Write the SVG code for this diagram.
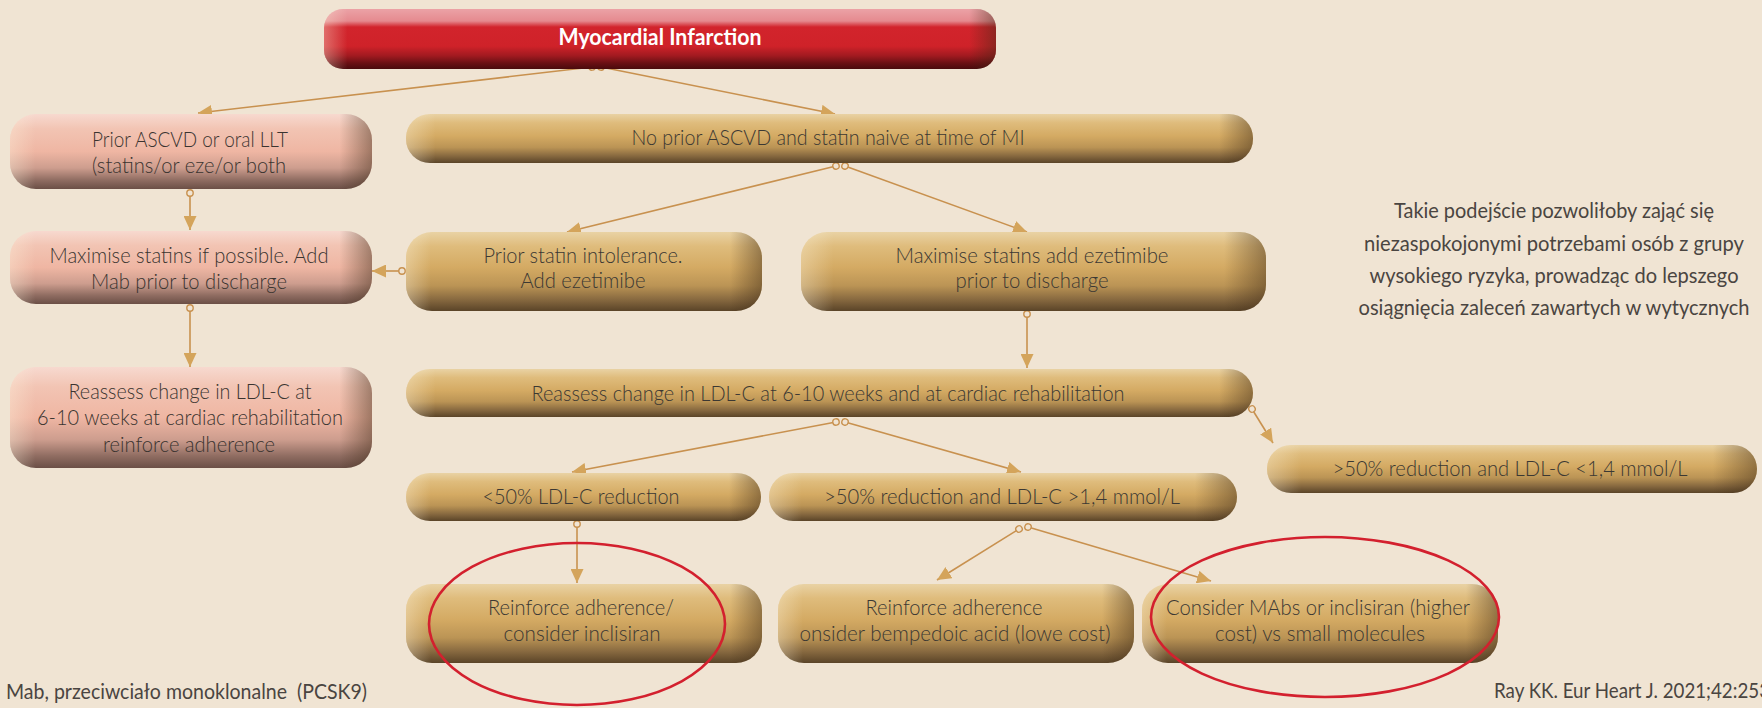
<svg xmlns="http://www.w3.org/2000/svg" width="1762" height="708" viewBox="0 0 1762 708">
<defs>
<linearGradient id="goldV" x1="0" y1="0" x2="0" y2="1">
<stop offset="0" stop-color="#e9d2a4"/><stop offset="0.18" stop-color="#dfbc7c"/><stop offset="0.45" stop-color="#d4aa63"/><stop offset="0.68" stop-color="#bb9455"/><stop offset="0.86" stop-color="#86683f"/><stop offset="1" stop-color="#5a4428"/>
</linearGradient>
<linearGradient id="pinkV" x1="0" y1="0" x2="0" y2="1">
<stop offset="0" stop-color="#f7d9cf"/><stop offset="0.2" stop-color="#f2c4b3"/><stop offset="0.5" stop-color="#efb6a3"/><stop offset="0.72" stop-color="#cd9d8e"/><stop offset="0.88" stop-color="#906d62"/><stop offset="1" stop-color="#6b4f46"/>
</linearGradient>
<linearGradient id="redV" x1="0" y1="0" x2="0" y2="1">
<stop offset="0" stop-color="#eba2a6"/><stop offset="0.2" stop-color="#e58a8f"/><stop offset="0.3" stop-color="#d2242c"/><stop offset="0.62" stop-color="#cf2229"/><stop offset="0.78" stop-color="#a11a20"/><stop offset="0.9" stop-color="#6b1014"/><stop offset="1" stop-color="#4a0a0c"/>
</linearGradient>
<linearGradient id="edgeW" x1="0" y1="0" x2="1" y2="0">
<stop offset="0" stop-color="#fff6e0" stop-opacity="0.35"/><stop offset="0.035" stop-color="#fff6e0" stop-opacity="0"/><stop offset="0.96" stop-color="#3c2814" stop-opacity="0"/><stop offset="1" stop-color="#3c2814" stop-opacity="0.45"/>
</linearGradient>
<linearGradient id="edgeN" x1="0" y1="0" x2="1" y2="0">
<stop offset="0" stop-color="#fff6e0" stop-opacity="0.35"/><stop offset="0.07" stop-color="#fff6e0" stop-opacity="0"/><stop offset="0.91" stop-color="#3c2814" stop-opacity="0"/><stop offset="1" stop-color="#3c2814" stop-opacity="0.45"/>
</linearGradient>
<marker id="arr" markerUnits="userSpaceOnUse" markerWidth="15" markerHeight="13" refX="14" refY="6.5" orient="auto">
<path d="M0,0 L14,6.5 L0,13 z" fill="#d4a45b"/>
</marker>
<marker id="dot" markerUnits="userSpaceOnUse" markerWidth="10" markerHeight="10" refX="5" refY="5" orient="auto">
<circle cx="5" cy="5" r="3.2" fill="#f0e4d3" stroke="#c8914f" stroke-width="1.4"/>
</marker>
<style>
.bg{fill:#f0e4d3}
.gold{fill:url(#goldV)}
.pink{fill:url(#pinkV)}
.red{fill:url(#redV)}
.ew{fill:url(#edgeW)}
.en{fill:url(#edgeN)}
.t{font-family:Lato,"Open Sans",sans-serif;font-size:21px;font-weight:300;fill:#3b3833;text-anchor:middle}
.tp{font-family:Lato,"Open Sans",sans-serif;font-size:21px;font-weight:300;fill:#3a3430;text-anchor:middle}
.tr{font-family:Lato,"Open Sans",sans-serif;font-size:21px;font-weight:400;fill:#4a4541;text-anchor:middle}
.tf{font-family:Lato,"Open Sans",sans-serif;font-size:21px;font-weight:400;fill:#4a4541;white-space:pre}
.mi{font-family:Lato,"Open Sans",sans-serif;font-size:22px;font-weight:700;fill:#ffffff;text-anchor:middle}
.c{fill:none;stroke:#c8914f;stroke-width:1.6;marker-start:url(#dot);marker-end:url(#arr)}
.ring{fill:none;stroke:#d3202e;stroke-width:2.6}
</style>
</defs>
<rect class="bg" x="0" y="0" width="1762" height="708"/>

<g id="connectors">
<line class="c" x1="592" y1="67" x2="198" y2="113"/>
<line class="c" x1="601" y1="67" x2="835" y2="114"/>
<line class="c" x1="190" y1="193" x2="190" y2="230"/>
<line class="c" x1="190" y1="308" x2="190" y2="367"/>
<line class="c" x1="402" y1="271" x2="372" y2="271"/>
<line class="c" x1="836" y1="166" x2="567" y2="232"/>
<line class="c" x1="845" y1="166" x2="1027" y2="232"/>
<line class="c" x1="1027" y1="314" x2="1027" y2="368"/>
<line class="c" x1="836" y1="422" x2="572" y2="472"/>
<line class="c" x1="845" y1="422" x2="1021" y2="472"/>
<line class="c" x1="1252" y1="409" x2="1273" y2="443"/>
<line class="c" x1="577" y1="524" x2="577" y2="583"/>
<line class="c" x1="1019" y1="529" x2="937" y2="580"/>
<line class="c" x1="1028" y1="527" x2="1211" y2="581"/>
</g>

<g id="mi">
<rect class="red" x="324" y="9" width="672" height="60" rx="19"/>
<rect class="ew" x="324" y="9" width="672" height="60" rx="19"/>
<text class="mi" x="660" y="45" textLength="203" lengthAdjust="spacingAndGlyphs">Myocardial Infarction</text>
</g>

<g id="p1">
<rect class="pink" x="10" y="114" width="362" height="75" rx="26"/>
<rect class="en" x="10" y="114" width="362" height="75" rx="26"/>
<text class="tp" x="190" y="147" textLength="196" lengthAdjust="spacingAndGlyphs">Prior ASCVD or oral LLT</text>
<text class="tp" x="189" y="173" textLength="194" lengthAdjust="spacingAndGlyphs">(statins/or eze/or both</text>
</g>
<g id="p2">
<rect class="pink" x="10" y="231" width="362" height="73" rx="26"/>
<rect class="en" x="10" y="231" width="362" height="73" rx="26"/>
<text class="tp" x="189" y="263" textLength="279" lengthAdjust="spacingAndGlyphs">Maximise statins if possible. Add</text>
<text class="tp" x="189" y="289" textLength="196" lengthAdjust="spacingAndGlyphs">Mab prior to discharge</text>
</g>
<g id="p3">
<rect class="pink" x="10" y="367" width="362" height="101" rx="26"/>
<rect class="en" x="10" y="367" width="362" height="101" rx="26"/>
<text class="tp" x="190" y="399" textLength="243" lengthAdjust="spacingAndGlyphs">Reassess change in LDL-C at</text>
<text class="tp" x="190" y="425" textLength="306" lengthAdjust="spacingAndGlyphs">6-10 weeks at cardiac rehabilitation</text>
<text class="tp" x="189" y="452" textLength="172" lengthAdjust="spacingAndGlyphs">reinforce adherence</text>
</g>

<g id="n1">
<rect class="gold" x="406" y="114" width="847" height="49" rx="24"/>
<rect class="ew" x="406" y="114" width="847" height="49" rx="24"/>
<text class="t" x="828" y="145" textLength="393" lengthAdjust="spacingAndGlyphs">No prior ASCVD and statin naive at time of MI</text>
</g>
<g id="n2">
<rect class="gold" x="406" y="232" width="356" height="79" rx="26"/>
<rect class="en" x="406" y="232" width="356" height="79" rx="26"/>
<text class="t" x="583" y="263" textLength="199" lengthAdjust="spacingAndGlyphs">Prior statin intolerance.</text>
<text class="t" x="583" y="288" textLength="125" lengthAdjust="spacingAndGlyphs">Add ezetimibe</text>
</g>
<g id="n3">
<rect class="gold" x="801" y="232" width="465" height="79" rx="26"/>
<rect class="en" x="801" y="232" width="465" height="79" rx="26"/>
<text class="t" x="1032" y="263" textLength="273" lengthAdjust="spacingAndGlyphs">Maximise statins add ezetimibe</text>
<text class="t" x="1032" y="288" textLength="153" lengthAdjust="spacingAndGlyphs">prior to discharge</text>
</g>
<g id="n4">
<rect class="gold" x="406" y="369" width="847" height="48" rx="24"/>
<rect class="ew" x="406" y="369" width="847" height="48" rx="24"/>
<text class="t" x="828" y="401" textLength="593" lengthAdjust="spacingAndGlyphs">Reassess change in LDL-C at 6-10 weeks and at cardiac rehabilitation</text>
</g>
<g id="n5">
<rect class="gold" x="406" y="473" width="355" height="48" rx="24"/>
<rect class="en" x="406" y="473" width="355" height="48" rx="24"/>
<text class="t" x="581" y="504" textLength="197" lengthAdjust="spacingAndGlyphs">&lt;50% LDL-C reduction</text>
</g>
<g id="n6">
<rect class="gold" x="769" y="473" width="468" height="48" rx="24"/>
<rect class="en" x="769" y="473" width="468" height="48" rx="24"/>
<text class="t" x="1002" y="504" textLength="356" lengthAdjust="spacingAndGlyphs">&gt;50% reduction and LDL-C &gt;1,4 mmol/L</text>
</g>
<g id="n7">
<rect class="gold" x="1267" y="445" width="490" height="48" rx="24"/>
<rect class="en" x="1267" y="445" width="490" height="48" rx="24"/>
<text class="t" x="1510" y="476" textLength="355" lengthAdjust="spacingAndGlyphs">&gt;50% reduction and LDL-C &lt;1,4 mmol/L</text>
</g>
<g id="b1">
<rect class="gold" x="406" y="584" width="356" height="79" rx="26"/>
<rect class="en" x="406" y="584" width="356" height="79" rx="26"/>
<text class="t" x="581" y="615" textLength="186" lengthAdjust="spacingAndGlyphs">Reinforce adherence/</text>
<text class="t" x="582" y="641" textLength="157" lengthAdjust="spacingAndGlyphs">consider inclisiran</text>
</g>
<g id="b2">
<rect class="gold" x="778" y="584" width="356" height="79" rx="26"/>
<rect class="en" x="778" y="584" width="356" height="79" rx="26"/>
<text class="t" x="954" y="615" textLength="177" lengthAdjust="spacingAndGlyphs">Reinforce adherence</text>
<text class="t" x="955" y="641" textLength="311" lengthAdjust="spacingAndGlyphs">onsider bempedoic acid (lowe cost)</text>
</g>
<g id="b3">
<rect class="gold" x="1142" y="584" width="356" height="79" rx="26"/>
<rect class="en" x="1142" y="584" width="356" height="79" rx="26"/>
<text class="t" x="1318" y="615" textLength="304" lengthAdjust="spacingAndGlyphs">Consider MAbs or inclisiran (higher</text>
<text class="t" x="1320" y="641" textLength="210" lengthAdjust="spacingAndGlyphs">cost) vs small molecules</text>
</g>

<g id="highlights">
<ellipse class="ring" cx="577" cy="624" rx="148" ry="81"/>
<ellipse class="ring" cx="1325" cy="617" rx="174" ry="80"/>
</g>

<g id="note">
<text class="tr" x="1554" y="218" textLength="320" lengthAdjust="spacingAndGlyphs">Takie podejście pozwoliłoby zająć się</text>
<text class="tr" x="1554" y="251" textLength="380" lengthAdjust="spacingAndGlyphs">niezaspokojonymi potrzebami osób z grupy</text>
<text class="tr" x="1554" y="283" textLength="369" lengthAdjust="spacingAndGlyphs">wysokiego ryzyka, prowadząc do lepszego</text>
<text class="tr" x="1554" y="315" textLength="391" lengthAdjust="spacingAndGlyphs">osiągnięcia zaleceń zawartych w wytycznych</text>
</g>

<g id="footer">
<text class="tf" x="6" y="699" textLength="361" lengthAdjust="spacingAndGlyphs">Mab, przeciwciało monoklonalne  (PCSK9)</text>
<text class="tf" x="1494" y="698" textLength="276" lengthAdjust="spacingAndGlyphs">Ray KK. Eur Heart J. 2021;42:253</text>
</g>
</svg>
